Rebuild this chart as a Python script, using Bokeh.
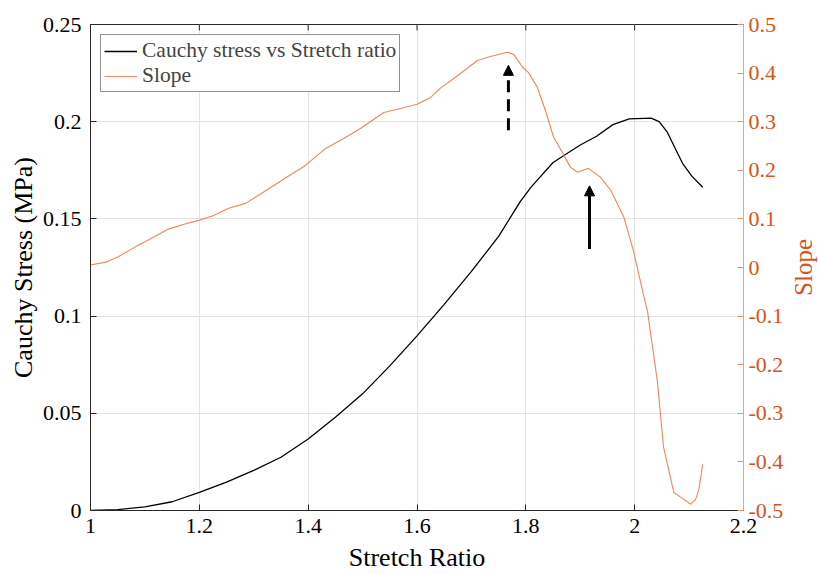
import math
from bokeh.plotting import figure
from bokeh.layouts import row
from bokeh.models import (LinearAxis, Range1d, FixedTicker, Arrow, NormalHead,
                          Legend, LegendItem, Label)
from bokeh.embed import file_html
from bokeh.resources import INLINE

# ---------------- data ----------------
stretch_stress = [1.00, 1.05, 1.10, 1.15, 1.20, 1.25, 1.30, 1.35, 1.40, 1.45, 1.50,
                  1.55, 1.60, 1.65, 1.70, 1.75, 1.79, 1.81, 1.85, 1.90, 1.93, 1.96,
                  1.99, 2.03, 2.045, 2.06, 2.075, 2.088, 2.105, 2.125]
cauchy_stress = [0.0, 0.0005, 0.0019, 0.0045, 0.0093, 0.0146, 0.0206, 0.0274, 0.0368,
                 0.0480, 0.0600, 0.0744, 0.0898, 0.1060, 0.1230, 0.1410, 0.1590,
                 0.1665, 0.1790, 0.1880, 0.1925, 0.1985, 0.2015, 0.2018, 0.2000,
                 0.1946, 0.1860, 0.1786, 0.1720, 0.1663]

stretch_slope = [1.000, 1.028, 1.051, 1.083, 1.114, 1.143, 1.175, 1.199, 1.224, 1.254,
                 1.285, 1.322, 1.358, 1.395, 1.432, 1.469, 1.496, 1.539, 1.570, 1.600,
                 1.625, 1.643, 1.675, 1.711, 1.735, 1.766, 1.778, 1.794, 1.805, 1.821,
                 1.836, 1.851, 1.868, 1.882, 1.895, 1.915, 1.937, 1.956, 1.980, 1.998,
                 2.017, 2.024, 2.042, 2.053, 2.072, 2.085, 2.103, 2.112, 2.118, 2.125]
slope = [0.005, 0.011, 0.022, 0.043, 0.061, 0.079, 0.090, 0.097, 0.106, 0.122,
         0.132, 0.158, 0.184, 0.210, 0.245, 0.268, 0.286, 0.319, 0.327, 0.336,
         0.350, 0.369, 0.395, 0.426, 0.434, 0.443, 0.438, 0.412, 0.401, 0.371,
         0.323, 0.268, 0.235, 0.206, 0.196, 0.204, 0.186, 0.159, 0.104, 0.033,
         -0.060, -0.093, -0.237, -0.369, -0.463, -0.473, -0.487, -0.477, -0.457, -0.405]

x_ticks = [1.0, 1.2, 1.4, 1.6, 1.8, 2.0, 2.2]
x_tick_labels = ["1", "1.2", "1.4", "1.6", "1.8", "2", "2.2"]
stress_ticks = [0.0, 0.05, 0.1, 0.15, 0.2, 0.25]
stress_tick_labels = ["0", "0.05", "0.1", "0.15", "0.2", "0.25"]
slope_ticks = [-0.5, -0.4, -0.3, -0.2, -0.1, 0.0, 0.1, 0.2, 0.3, 0.4, 0.5]
slope_tick_labels = ["-0.5", "-0.4", "-0.3", "-0.2", "-0.1", "0", "0.1", "0.2", "0.3", "0.4", "0.5"]

# annotation arrows (stress-axis units)
arrow_x = [1.768, 1.917]
arrow_y_start = [0.1956, 0.1345]
arrow_y_end = [0.229, 0.167]
arrow_dash = ["12 7", "solid"]

FONT = "Liberation Serif"
ORANGE = "#D95319"
DARK = "#262626"
X0, X1, Y0, Y1 = 1.0, 2.2, 0.0, 0.25
FRAME_H = 487
BORDER_TOP, BORDER_BOTTOM = 24, 63

p = figure(width=788, height=574, output_backend="svg", toolbar_location=None,
           x_range=Range1d(X0, X1), y_range=Range1d(Y0, Y1),
           min_border_left=90, min_border_right=45,
           min_border_top=BORDER_TOP, min_border_bottom=BORDER_BOTTOM)
p.extra_y_ranges = {"slope": Range1d(-0.5, 0.5)}
p.outline_line_color = DARK
p.outline_line_width = 1
p.background_fill_color = "white"

# grid
p.xgrid.ticker = FixedTicker(ticks=x_ticks)
p.ygrid.ticker = FixedTicker(ticks=stress_ticks)
for g in (p.xgrid, p.ygrid):
    g.grid_line_color = "#e3e3e3"
    g.grid_line_width = 1

def style_axis(ax, color, label_color):
    ax.axis_line_color = color
    ax.major_tick_line_color = color
    ax.minor_tick_line_color = None
    ax.major_tick_in = 6
    ax.major_tick_out = 0
    ax.major_label_text_font = FONT
    ax.major_label_text_font_size = "22px"
    ax.major_label_text_color = label_color
    ax.axis_label_text_font = FONT
    ax.axis_label_text_font_size = "26px"
    ax.axis_label_text_font_style = "normal"
    ax.axis_label_text_color = label_color

# bottom axis
xa = p.xaxis[0]
xa.ticker = FixedTicker(ticks=x_ticks)
xa.major_label_overrides = dict(zip(x_ticks, x_tick_labels))
xa.axis_label = "Stretch Ratio"
style_axis(xa, DARK, "black")
xa.major_label_standoff = 8
xa.axis_label_standoff = 7

# left axis
ya = p.yaxis[0]
ya.ticker = FixedTicker(ticks=stress_ticks)
ya.major_label_overrides = dict(zip(stress_ticks, stress_tick_labels))
ya.axis_label = "Cauchy Stress (MPa)"
style_axis(ya, DARK, "black")
ya.major_label_standoff = 9
ya.axis_label_standoff = 2

# right axis (its title sits in the narrow strip figure to the right)
ra = LinearAxis(y_range_name="slope")
ra.ticker = FixedTicker(ticks=slope_ticks)
ra.major_label_overrides = dict(zip(slope_ticks, slope_tick_labels))
style_axis(ra, "#EFA07E", ORANGE)
ra.major_tick_line_color = "#E8916A"
ra.major_label_standoff = 5
p.add_layout(ra, "right")

# top-edge ticks (inward), derived from the x ticks
tick_len = (Y1 - Y0) * 6 / FRAME_H
p.segment(x0=x_ticks, y0=[Y1] * len(x_ticks), x1=x_ticks,
          y1=[Y1 - tick_len] * len(x_ticks), line_color=DARK, line_width=1)

black = p.line(stretch_stress, cauchy_stress, line_color="black", line_width=1.3)
orange = p.line(stretch_slope, slope, line_color="#EC8660", line_width=1.1,
                y_range_name="slope")

# arrows
for xs, ys, ye, d in zip(arrow_x, arrow_y_start, arrow_y_end, arrow_dash):
    p.add_layout(Arrow(x_start=xs, y_start=ys, x_end=xs, y_end=ye,
                       line_width=3, line_color="black", line_dash=d,
                       end=NormalHead(size=10, fill_color="black", line_color="black",
                                      line_width=1)))

legend = Legend(items=[LegendItem(label="Cauchy stress vs Stretch ratio", renderers=[black]),
                       LegendItem(label="Slope", renderers=[orange])],
                location="top_left")
legend.margin = 10
legend.padding = 3
legend.spacing = 0
legend.glyph_width = 33
legend.glyph_height = 20
legend.label_height = 20
legend.label_standoff = 5
legend.label_text_font = FONT
legend.label_text_font_size = "21.5px"
legend.border_line_color = DARK
legend.border_line_width = 0.8
legend.background_fill_alpha = 1
p.add_layout(legend)

# narrow strip holding the right-axis title, reading bottom-to-top
s = figure(width=30, height=574, output_backend="svg", toolbar_location=None,
           x_range=Range1d(0, 1), y_range=Range1d(0, 1),
           min_border_left=0, min_border_right=0,
           min_border_top=BORDER_TOP, min_border_bottom=BORDER_BOTTOM)
s.axis.visible = False
s.grid.visible = False
s.outline_line_color = None
s.add_layout(Label(x=0.5, y=0.5, text="Slope", angle=math.pi / 2,
                   text_align="center", text_baseline="middle", text_font=FONT,
                   text_font_size="25px", text_color=ORANGE))

layout = row(p, s, spacing=0)
open("out.html", "w").write(file_html(layout, INLINE))
